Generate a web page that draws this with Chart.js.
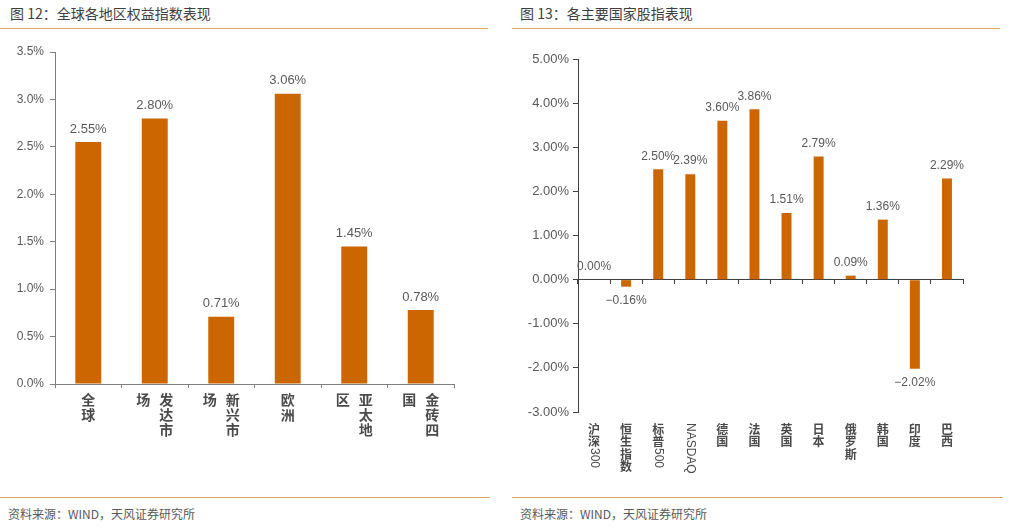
<!DOCTYPE html>
<html lang="zh-CN">
<head>
    <meta charset="UTF-8">
    <title>全球各地区权益指数表现</title>
    <script src="https://cdn.jsdelivr.net/npm/chart.js"></script>
    <style>
        body {
            margin: 0;
            width: 1011px;
            height: 528px;
            position: relative;
            overflow: hidden;
            background: #fff;
            font-family: "Noto Sans CJK SC", sans-serif;
        }
        .title {
            position: absolute;
            top: 2px;
            font-size: 14px;
            line-height: 22px;
            color: #404040;
        }
        .rule {
            position: absolute;
            height: 1px;
            background: #E2A45E;
        }
        .source {
            position: absolute;
            top: 505px;
            font-size: 12px;
            line-height: 18px;
            color: #595959;
        }
        canvas {
            position: absolute;
            top: 30px;
        }
    </style>
</head>
<body>
    <div class="title" style="left:10px">图 12：全球各地区权益指数表现</div>
    <div class="title" style="left:520px">图 13：各主要国家股指表现</div>
    <div class="rule" style="left:0; width:488px; top:28px"></div>
    <div class="rule" style="left:512px; width:488px; top:28px"></div>

    <canvas id="regionChart" width="490" height="465" style="left:0"></canvas>
    <canvas id="indexChart" width="490" height="465" style="left:510px"></canvas>

    <div class="rule" style="left:0; width:490px; top:497px"></div>
    <div class="rule" style="left:512px; width:491px; top:497px"></div>
    <div class="source" style="left:8px">资料来源：WIND，天风证券研究所</div>
    <div class="source" style="left:520px">资料来源：WIND，天风证券研究所</div>

    <script>
        // 图12 数据
        const regionLabels = ["全球", "发达市场", "新兴市场", "欧洲", "亚太地区", "金砖四国"];
        const regionValues = [2.55, 2.80, 0.71, 3.06, 1.45, 0.78];
        const regionTicks = [0, 0.5, 1.0, 1.5, 2.0, 2.5, 3.0, 3.5];

        // 图13 数据
        const indexLabels = ["沪深300", "恒生指数", "标普500", "NASDAQ", "德国", "法国", "英国", "日本", "俄罗斯", "韩国", "印度", "巴西"];
        const indexValues = [0.00, -0.16, 2.50, 2.39, 3.60, 3.86, 1.51, 2.79, 0.09, 1.36, -2.02, 2.29];
        const indexTicks = [-3, -2, -1, 0, 1, 2, 3, 4, 5];

        const BAR_COLOR = "#CC6600";
        const NUM_FONT = "Liberation Sans, Arial, sans-serif";

        // 竖排文字：汉字直立，西文旋转90度
        function drawColumn(ctx, text, cx, y, o) {
            const runs = text.match(/[\x00-\x7f]+|[^\x00-\x7f]/g) || [];
            runs.forEach(run => {
                if (/^[\x00-\x7f]+$/.test(run)) {
                    ctx.font = o.latinFont;
                    ctx.save();
                    ctx.translate(cx, y);
                    ctx.rotate(Math.PI / 2);
                    ctx.textAlign = "left";
                    ctx.textBaseline = "middle";
                    ctx.fillText(run, 0, 0);
                    ctx.restore();
                    y += ctx.measureText(run).width;
                } else {
                    ctx.font = o.cjkFont;
                    ctx.textAlign = "center";
                    ctx.textBaseline = "top";
                    ctx.fillText(run, cx, y);
                    y += o.step;
                }
            });
        }

        function splitColumns(label, perColumn) {
            if (!perColumn) return [label];
            const chars = Array.from(label);
            const cols = [];
            for (let i = 0; i < chars.length; i += perColumn) {
                cols.push(chars.slice(i, i + perColumn).join(""));
            }
            return cols;
        }

        const verticalLabels = {
            id: "verticalLabels",
            afterDraw(chart, args, o) {
                const ctx = chart.ctx;
                const xScale = chart.scales.x;
                ctx.save();
                ctx.fillStyle = o.color;
                chart.data.labels.forEach((label, i) => {
                    const cx = xScale.getPixelForValue(i);
                    const cols = splitColumns(label, o.perColumn);
                    cols.forEach((col, c) => {
                        // 从右往左排列
                        const colX = cx + (cols.length - 1) * o.colGap / 2 - c * o.colGap;
                        drawColumn(ctx, col, colX, chart.chartArea.bottom + o.top, o);
                    });
                });
                ctx.restore();
            }
        };

        const valueLabels = {
            id: "valueLabels",
            afterDatasetsDraw(chart, args, o) {
                const ctx = chart.ctx;
                const data = chart.data.datasets[0].data;
                ctx.save();
                ctx.font = o.font;
                ctx.fillStyle = "#595959";
                ctx.textAlign = "center";
                ctx.textBaseline = "middle";
                chart.getDatasetMeta(0).data.forEach((bar, i) => {
                    const v = data[i];
                    const y = v < 0 ? bar.y + o.below : bar.y - o.above;
                    ctx.fillText(v.toFixed(2).replace("-", "\u2212") + "%", bar.x, y);
                });
                ctx.restore();
            }
        };

        Chart.register(verticalLabels, valueLabels);

        // 图12
        new Chart(document.getElementById("regionChart"), {
            type: "bar",
            data: {
                labels: regionLabels,
                datasets: [{
                    data: regionValues,
                    backgroundColor: BAR_COLOR,
                    categoryPercentage: 1,
                    barPercentage: 0.39
                }]
            },
            options: {
                responsive: false,
                animation: false,
                layout: { padding: { top: 22, right: 36, bottom: 0, left: 0 } },
                plugins: {
                    legend: { display: false },
                    tooltip: { enabled: false },
                    verticalLabels: {
                        color: "#4a4a4a",
                        perColumn: 3,
                        colGap: 23,
                        top: 9,
                        step: 15,
                        cjkFont: "bold 14px 'Noto Sans CJK SC'",
                        latinFont: "13px " + NUM_FONT
                    },
                    valueLabels: { font: "13px " + NUM_FONT, above: 13, below: 14 }
                },
                scales: {
                    x: {
                        ticks: { display: false },
                        grid: { drawOnChartArea: false, tickLength: 4, color: "#7f7f7f" },
                        border: { color: "#7f7f7f" },
                        afterFit(s) { s.height = 111; }
                    },
                    y: {
                        min: 0,
                        max: 3.5,
                        afterBuildTicks(s) { s.ticks = regionTicks.map(v => ({ value: v })); },
                        ticks: {
                            color: "#595959",
                            padding: 6,
                            font: { family: NUM_FONT, size: 12 },
                            callback: v => v.toFixed(1) + "%"
                        },
                        grid: { drawOnChartArea: false, tickLength: 5, color: "#7f7f7f" },
                        border: { color: "#7f7f7f" },
                        afterFit(s) { s.width = 55; }
                    }
                }
            }
        });

        // 图13
        new Chart(document.getElementById("indexChart"), {
            type: "bar",
            data: {
                labels: indexLabels,
                datasets: [{
                    data: indexValues,
                    backgroundColor: BAR_COLOR,
                    categoryPercentage: 1,
                    barPercentage: 0.31
                }]
            },
            options: {
                responsive: false,
                animation: false,
                layout: { padding: { top: 29, right: 37, bottom: 83, left: 0 } },
                plugins: {
                    legend: { display: false },
                    tooltip: { enabled: false },
                    verticalLabels: {
                        color: "#4a4a4a",
                        perColumn: 0,
                        colGap: 0,
                        top: 11,
                        step: 12.5,
                        cjkFont: "bold 12px 'Noto Sans CJK SC'",
                        latinFont: "12px " + NUM_FONT
                    },
                    valueLabels: { font: "12px " + NUM_FONT, above: 13, below: 14 }
                },
                scales: {
                    x: {
                        position: { y: 0 },
                        ticks: { display: false },
                        grid: { drawOnChartArea: false, tickLength: 4, color: "#404040" },
                        border: { color: "#404040" }
                    },
                    y: {
                        min: -3,
                        max: 5,
                        afterBuildTicks(s) { s.ticks = indexTicks.map(v => ({ value: v })); },
                        ticks: {
                            color: "#595959",
                            padding: 4,
                            font: { family: NUM_FONT, size: 13 },
                            callback: v => v.toFixed(2) + "%"
                        },
                        grid: { drawOnChartArea: false, tickLength: 5, color: "#404040" },
                        border: { color: "#404040" },
                        afterFit(s) { s.width = 68; }
                    }
                }
            }
        });
    </script>
</body>
</html>
